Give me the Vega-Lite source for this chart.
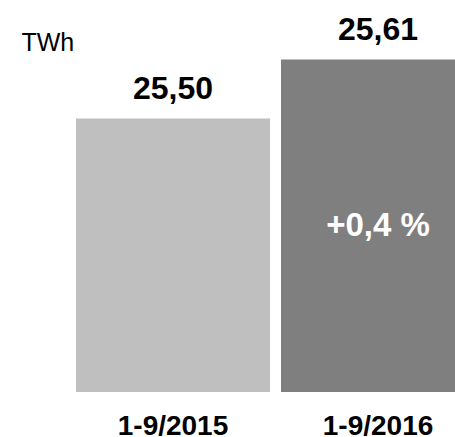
{
  "$schema": "https://vega.github.io/schema/vega-lite/v6.json",
  "width": 455,
  "height": 392,
  "autosize": {"type": "none"},
  "padding": {"left": 0, "top": 0, "right": 0, "bottom": 45},
  "background": "white",
  "config": {"view": {"stroke": null}},
  "data": {
    "values": [
      {"period": "1-9/2015", "value": 25.50, "label": "25,50", "change": ""},
      {"period": "1-9/2016", "value": 25.61, "label": "25,61", "change": "+0,4 %"}
    ]
  },
  "encoding": {
    "x": {
      "field": "period",
      "type": "nominal",
      "sort": null,
      "scale": {"range": [76, 475], "paddingInner": 0.0537, "paddingOuter": 0},
      "axis": {
        "title": null,
        "domain": false,
        "ticks": false,
        "tickSize": 0,
        "labelAngle": 0,
        "labelFont": "Liberation Sans",
        "labelFontSize": 28,
        "labelFontWeight": "bold",
        "labelColor": "black",
        "labelBaseline": "alphabetic",
        "labelPadding": 42,
        "labelLimit": 0
      }
    },
    "y": {
      "field": "value",
      "type": "quantitative",
      "scale": {"domain": [24.99, 25.721], "zero": false, "nice": false},
      "axis": {
        "title": "TWh",
        "labels": false,
        "ticks": false,
        "domain": false,
        "grid": false,
        "titleAngle": 0,
        "titleX": 21,
        "titleY": 50,
        "titleAlign": "left",
        "titleBaseline": "alphabetic",
        "titleFont": "Liberation Sans",
        "titleFontSize": 25,
        "titleFontWeight": "normal",
        "titleColor": "black"
      }
    }
  },
  "layer": [
    {
      "mark": {"type": "bar", "clip": true},
      "encoding": {
        "y2": {"datum": 24.99},
        "color": {
          "field": "period",
          "type": "nominal",
          "scale": {"range": ["#bfbfbf", "#7f7f7f"]},
          "legend": null
        }
      }
    },
    {
      "mark": {"type": "text", "baseline": "alphabetic", "dy": -20, "font": "Liberation Sans", "fontSize": 32, "fontWeight": "bold", "color": "black"},
      "encoding": {"text": {"field": "label"}}
    },
    {
      "mark": {"type": "text", "baseline": "middle", "dy": 166, "font": "Liberation Sans", "fontSize": 33, "fontWeight": "bold", "color": "white"},
      "encoding": {"text": {"field": "change"}}
    }
  ]
}
